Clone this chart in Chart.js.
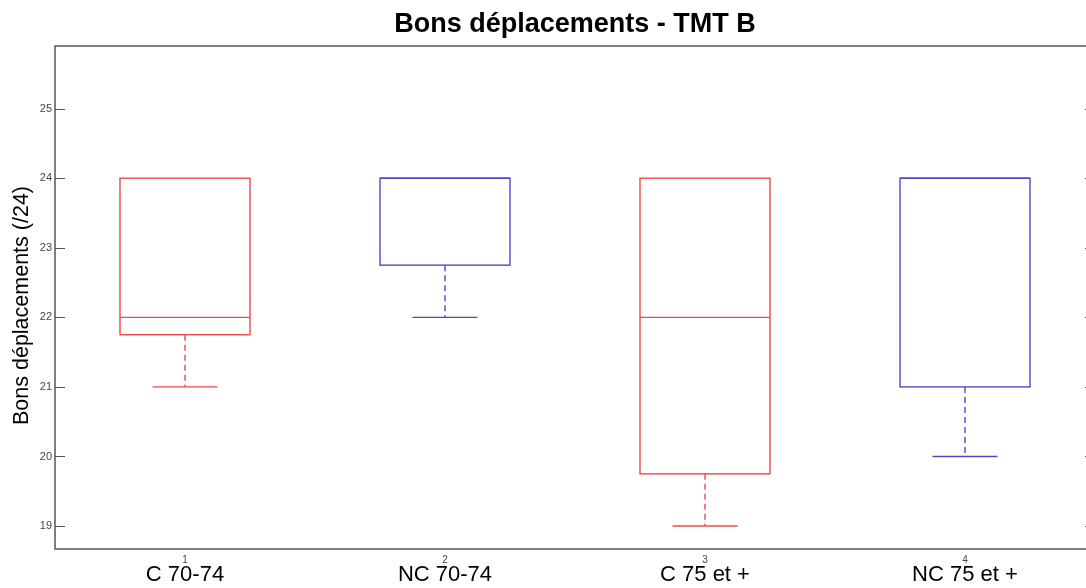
<!DOCTYPE html>
<html>
<head>
<meta charset="utf-8">
<script src="https://cdn.jsdelivr.net/npm/chart.js@4/dist/chart.umd.min.js"></script>
<style>
html,body{margin:0;padding:0;background:#fff;overflow:hidden;}
#wrap{width:1100px;height:588px;}
</style>
</head>
<body>
<div id="wrap"><canvas id="c" width="1100" height="588"></canvas></div>
<script>
const categories = ["C 70-74", "NC 70-74", "C 75 et +", "NC 75 et +"];
const xTickLabels = ["1", "2", "3", "4"];
const whiskerLow = [21, 22, 19, 20];
const q1 = [21.75, 22.75, 19.75, 21];
const median = [22, 24, 22, 24];
const q3 = [24, 24, 24, 24];
const whiskerHigh = [24, 24, 24, 24];
const boxColors = ["#f04848", "#4a4ac8", "#f04848", "#4a4ac8"];
const yTicks = [19, 20, 21, 22, 23, 24, 25];
const titleText = "Bons déplacements - TMT B";
const yTitle = "Bons déplacements (/24)";

const boxPlugin = {
  id: 'boxes',
  afterDatasetsDraw(chart) {
    const ctx = chart.ctx, xs = chart.scales.x, ys = chart.scales.y, a = chart.chartArea;
    const step = xs.getPixelForValue(1) - xs.getPixelForValue(0);
    ctx.save();
    categories.forEach((c, i) => {
      const cx = xs.getPixelForValue(i);
      const hw = step * 0.25, cw = step * 0.125;
      const yq1 = ys.getPixelForValue(q1[i]), yq3 = ys.getPixelForValue(q3[i]);
      const ym = ys.getPixelForValue(median[i]);
      const ylo = ys.getPixelForValue(whiskerLow[i]), yhi = ys.getPixelForValue(whiskerHigh[i]);
      ctx.strokeStyle = boxColors[i];
      ctx.lineWidth = 1.4;
      ctx.setLineDash([]);
      ctx.strokeRect(cx - hw, yq3, 2 * hw, yq1 - yq3);
      ctx.beginPath();
      ctx.moveTo(cx - hw, ym); ctx.lineTo(cx + hw, ym);
      ctx.moveTo(cx - cw, ylo); ctx.lineTo(cx + cw, ylo);
      if (whiskerHigh[i] > q3[i]) { ctx.moveTo(cx - cw, yhi); ctx.lineTo(cx + cw, yhi); }
      ctx.stroke();
      ctx.setLineDash([6, 4]);
      ctx.beginPath();
      if (whiskerLow[i] < q1[i]) { ctx.moveTo(cx, yq1); ctx.lineTo(cx, ylo); }
      if (whiskerHigh[i] > q3[i]) { ctx.moveTo(cx, yq3); ctx.lineTo(cx, yhi); }
      ctx.stroke();
    });
    ctx.setLineDash([]);
    ctx.strokeStyle = '#555';
    ctx.lineWidth = 1.5;
    ctx.strokeRect(a.left, a.top, a.right - a.left, a.bottom - a.top);
    ctx.lineWidth = 1;
    ctx.beginPath();
    yTicks.forEach(t => {
      const y = Math.round(ys.getPixelForValue(t)) + 0.5;
      ctx.moveTo(a.left, y); ctx.lineTo(a.left + 10, y);
      ctx.moveTo(a.right, y); ctx.lineTo(a.right - 10, y);
    });
    ctx.stroke();
    ctx.fillStyle = '#000';
    ctx.font = 'bold 27px "Liberation Sans", Arial, sans-serif';
    ctx.textAlign = 'center';
    ctx.textBaseline = 'middle';
    ctx.fillText(titleText, (a.left + a.right) / 2, 25);
    ctx.font = '22px "Liberation Sans", Arial, sans-serif';
    categories.forEach((c, i) => {
      ctx.fillText(c, xs.getPixelForValue(i), 575);
    });
    ctx.save();
    ctx.translate(22, (a.top + a.bottom) / 2 + 8);
    ctx.rotate(-Math.PI / 2);
    ctx.font = '21.5px "Liberation Sans", Arial, sans-serif';
    ctx.fillText(yTitle, 0, 0);
    ctx.restore();
    ctx.restore();
  }
};

new Chart(document.getElementById('c'), {
  type: 'bar',
  data: {
    labels: categories,
    datasets: [{ data: q3, backgroundColor: 'rgba(0,0,0,0)', borderWidth: 0 }]
  },
  options: {
    responsive: false,
    animation: false,
    layout: { padding: { top: 46, left: 0, right: 5, bottom: 0 } },
    plugins: { legend: { display: false }, tooltip: { enabled: false }, title: { display: false } },
    scales: {
      x: {
        type: 'category',
        offset: true,
        grid: { display: false, drawTicks: false },
        border: { display: false },
        ticks: {
          callback: (v, i) => xTickLabels[i],
          font: { size: 10, family: '"Liberation Sans", Arial, sans-serif' },
          color: '#444',
          padding: 5,
          maxRotation: 0
        },
        afterFit: s => { s.height = 39; }
      },
      y: {
        min: 18.67, max: 25.9,
        afterBuildTicks: s => { s.ticks = yTicks.map(v => ({ value: v })); },
        grid: { display: false, drawTicks: false },
        border: { display: false },
        ticks: {
          font: { size: 11, family: '"Liberation Sans", Arial, sans-serif' },
          color: '#444',
          padding: 3
        },
        afterFit: s => { s.width = 55; }
      }
    }
  },
  plugins: [boxPlugin]
});
</script>
</body>
</html>
